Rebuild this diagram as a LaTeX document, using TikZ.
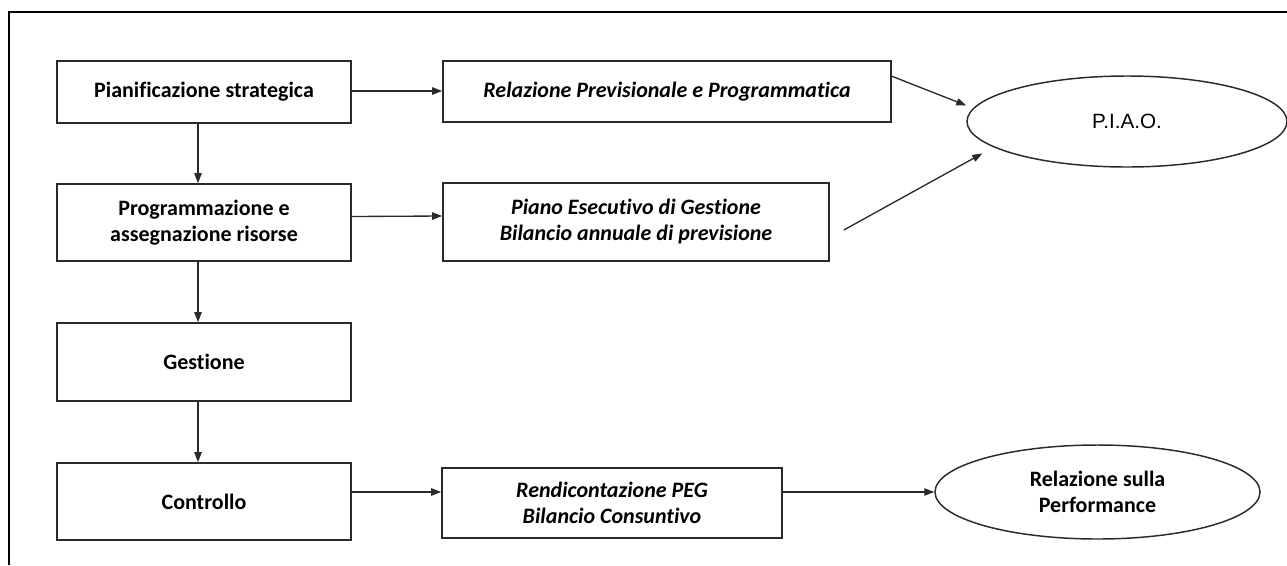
\documentclass[tikz,border=0pt]{standalone}
\usepackage{fontspec}
\setmainfont{Carlito}[Ligatures=CommonOff]
\newfontfamily\arialf{Liberation Sans}
\usetikzlibrary{arrows.meta,calc,shapes.geometric}
\definecolor{ink}{HTML}{2A2A2A}
\tikzset{
  boxstyle/.style={draw=ink, line width=1.2pt, rectangle, inner sep=0pt, align=center, text=black,
    font=\fontsize{16.5}{20}\selectfont\bfseries},
  itbox/.style={boxstyle, font=\fontsize{16.5}{19.5}\selectfont\bfseries\itshape},
  ovalstyle/.style={draw=ink, line width=1.1pt, ellipse, inner sep=0pt, align=center, text=black},
  arr/.style={draw=ink, line width=1pt, -{Triangle[length=7.5pt,width=5.5pt]}},
  framestyle/.style={draw=black, line width=1.6pt}
}
\begin{document}
\begin{tikzpicture}[x=0.75pt,y=-0.75pt]
\useasboundingbox (0,0) rectangle (1287,565);
\fill[white] (0,0) rectangle (1287,565);
% outer frame (cropped)
\draw[framestyle] (9,565) -- (9,12) -- (1287,12);
% left column
\node[boxstyle, minimum width=294*0.75pt, minimum height=62*0.75pt] (b1) at (204,92) {Pianificazione strategica};
\node[boxstyle, minimum width=294*0.75pt, minimum height=77*0.75pt] (b2) at (204,222.5) {Programmazione e\\assegnazione risorse};
\node[boxstyle, minimum width=294*0.75pt, minimum height=78*0.75pt] (b3) at (204,362) {Gestione};
\node[boxstyle, minimum width=294*0.75pt, minimum height=77*0.75pt] (b4) at (204,501.5) {Controllo};
% middle column
\node[itbox, minimum width=448*0.75pt, minimum height=61*0.75pt] (r1) at (667,91.5) {Relazione Previsionale e Programmatica};
\node[itbox, minimum width=386*0.75pt, minimum height=78*0.75pt] (r2) at (636,222) {Piano Esecutivo di Gestione\\Bilancio annuale di previsione};
\node[itbox, minimum width=340*0.75pt, minimum height=70*0.75pt] (r4) at (612,503) {Rendicontazione PEG\\Bilancio Consuntivo};
% ellipses
\node[ovalstyle, minimum width=320*0.75pt, minimum height=91*0.75pt, font=\arialf\fontsize{15.5}{18}\selectfont] (piao) at (1127,121.5) {P.I.A.O.};
\node[ovalstyle, minimum width=325*0.75pt, minimum height=94*0.75pt, font=\fontsize{16.5}{19.5}\selectfont\bfseries] (rel) at (1097.5,492) {Relazione sulla\\Performance};
% vertical arrows
\draw[arr] ($(b1.south)+(-6,0)$) -- ($(b2.north)+(-6,0)$);
\draw[arr] ($(b2.south)+(-6,0)$) -- ($(b3.north)+(-6,0)$);
\draw[arr] ($(b3.south)+(-6,0)$) -- ($(b4.north)+(-6,0)$);
% horizontal arrows
\draw[arr] ($(b1.east)+(0,-1)$) -- ($(r1.west)+(0,-0.5)$);
\draw[arr] ($(b2.east)+(0,-6)$) -- ($(r2.west)+(0,-6)$);
\draw[arr] (b4.east |- rel.west) -- (r4.west |- rel.west);
\draw[arr] (r4.east |- rel.west) -- (rel.west);
% arrows to P.I.A.O.
\coordinate (p1) at ($(piao.west)+(0,-16)$);
\coordinate (s2) at ($(r2.east)+(14,8)$);
\coordinate (p2) at ($(piao.west)+(16,32)$);
\draw[arr] ($(r1.north east)+(0,16)$) -- (p1);
\draw[arr] (s2) -- (p2);
\end{tikzpicture}
\end{document}
